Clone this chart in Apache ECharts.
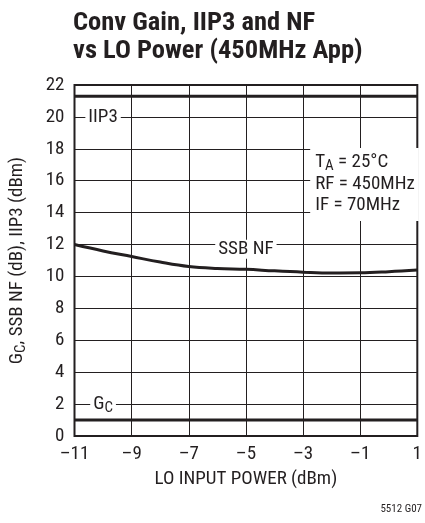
<!DOCTYPE html>
<html><head><meta charset="utf-8">
<script src="https://cdn.jsdelivr.net/npm/echarts@6/dist/echarts.min.js"></script>
<style>html,body{margin:0;padding:0;background:#fff}#c{width:425px;height:523px}</style>
</head><body><div id="c"></div>
<script>
const xs = [-11,-10,-9,-8,-7,-6,-5,-4,-3,-2,-1,0,1];
const nf = [12.0,11.6,11.25,10.9,10.62,10.5,10.45,10.35,10.27,10.22,10.23,10.3,10.4];
const iip3 = [21.3,21.3,21.3,21.3,21.3,21.3,21.3,21.3,21.3,21.3,21.3,21.3,21.3];
const gc = [1.0,1.0,1.0,1.0,1.0,1.0,1.0,1.0,1.0,1.0,1.0,1.0,1.0];
const xTicks = [-11,-9,-7,-5,-3,-1,1];
const yTicks = [0,2,4,6,8,10,12,14,16,18,20,22];
const X_MIN = -11, X_MAX = 1;

const FONT = '"Liberation Sans Narrow","Roboto Condensed","Liberation Sans",sans-serif';
const INK = '#231f20';
const fmt = v => (v < 0 ? '\u2013' + Math.abs(v) : String(v));
const pts = arr => xs.map((x, i) => [x - X_MIN, arr[i]]);

const chart = echarts.init(document.getElementById('c'));
const option = {
  animation: false,
  backgroundColor: '#fff',
  title: {
    text: 'Conv Gain, IIP3 and NF\nvs LO Power (450MHz App)',
    left: 68, top: 4,
    textStyle: {fontFamily: FONT, fontWeight: 'bold', fontSize: 26.5, lineHeight: 28, color: INK}
  },
  grid: {left: 72, right: 3, top: 85, bottom: 87, show: true, borderColor: INK, borderWidth: 2, backgroundColor: 'transparent'},
  xAxis: {
    type: 'value', min: 0, max: X_MAX - X_MIN, interval: 2,
    axisLine: {show: false}, axisTick: {show: false},
    splitLine: {show: true, lineStyle: {color: INK, width: 1}},
    axisLabel: {formatter: v => fmt(v + X_MIN), fontFamily: FONT, fontSize: 19, color: INK, margin: 9},
    name: 'LO INPUT POWER (dBm)', nameLocation: 'middle', nameGap: 34,
    nameTextStyle: {fontFamily: FONT, fontSize: 19, color: INK}
  },
  yAxis: {
    type: 'value', min: yTicks[0], max: yTicks[yTicks.length-1], interval: 2,
    axisLine: {show: false}, axisTick: {show: false},
    splitLine: {show: true, lineStyle: {color: INK, width: 1}},
    axisLabel: {fontFamily: FONT, fontSize: 19, color: INK, margin: 10},
    name: '{a|G}{s|C}{a|, SSB NF (dB), IIP3 (dBm)}', nameLocation: 'middle', nameGap: 46,
    nameTextStyle: {fontFamily: FONT, fontSize: 19, color: INK,
      rich: {a: {fontFamily: FONT, fontSize: 19, color: INK}, s: {fontFamily: FONT, fontSize: 15, color: INK, padding: [7,0,0,0]}}}
  },
  series: [
    {type: 'line', data: pts(iip3), symbol: 'none', lineStyle: {color: INK, width: 3}},
    {type: 'line', data: pts(gc), symbol: 'none', lineStyle: {color: INK, width: 3}},
    {type: 'line', data: pts(nf), symbol: 'none', smooth: 0.4, lineStyle: {color: INK, width: 3}}
  ]
};
chart.setOption(option);

const P = (x, y) => chart.convertToPixel({gridIndex: 0}, [x - X_MIN, y]);
const ts = {fontFamily: FONT, fontSize: 19, fill: INK};
const label = (x, y, text, rich) => {
  const p = P(x, y);
  return {type: 'text', x: p[0], y: p[1], z: 10,
    style: Object.assign({}, ts, {text, align: 'center', verticalAlign: 'middle', backgroundColor: '#fff', padding: [0, 3], rich})};
};
const subRich = {m: {fontFamily: FONT, fontSize: 19, fill: INK}, s: {fontFamily: FONT, fontSize: 15, fill: INK, padding: [8,0,0,0]}};
const boxP = P(-2.75, 18.05);
chart.setOption({graphic: [
  label(-10, 20, 'IIP3'),
  label(-10, 2, '{m|G}{s|C}', subRich),
  label(-5, 11.7, 'SSB NF'),
  {type: 'text', x: boxP[0], y: boxP[1], z: 10,
    style: {text: '{m|T}{s|A}{m| = 25°C}\n{m|RF = 450MHz}\n{m|IF = 70MHz}', rich: Object.assign({}, subRich, {m: {fontFamily: FONT, fontSize: 19, fill: INK, lineHeight: 21}}),
      align: 'left', verticalAlign: 'top', backgroundColor: '#fff', padding: [3, 4, 5, 5]}},
  {type: 'text', right: 3, top: 504, style: {text: '5512 G07', fontFamily: FONT, fontSize: 11, fill: INK}}
]});
</script></body></html>
